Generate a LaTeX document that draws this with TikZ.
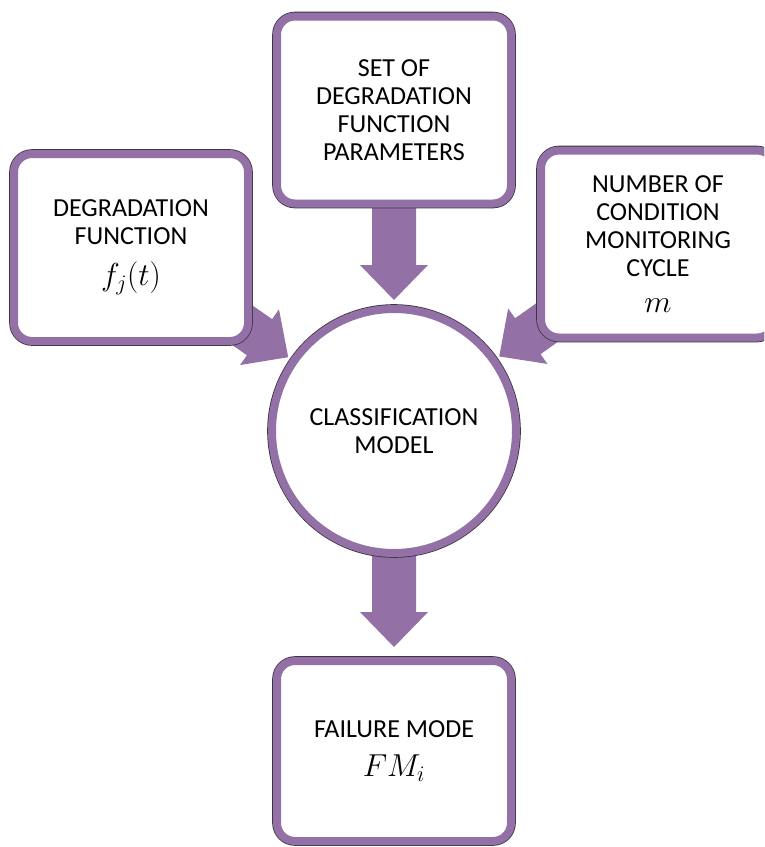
\documentclass[tikz,border=0pt]{standalone}
\usepackage{fix-cm}
\usepackage{fontspec}
\usepackage{graphicx}
\setmainfont{Carlito}
\usetikzlibrary{calc}

\definecolor{flowpurple}{RGB}{147,112,165}
\definecolor{edgegray}{RGB}{62,52,68}

\pgfdeclarelayer{back}
\pgfsetlayers{back,main}

\newcommand\bigmath[1]{\scalebox{1.22}{$#1$}}

\tikzset{
  labelfont/.style={font=\fontsize{26}{28}\selectfont},
  ring/.style={draw=flowpurple, line width=8pt, fill=white,
    preaction={draw=edgegray, line width=9.6pt}},
  panel/.style={ring, rounded corners=18pt, minimum width=234pt,
    minimum height=187pt, inner sep=0pt, align=center, labelfont},
  hub/.style={ring, circle, minimum size=244pt, inner sep=0pt,
    align=center, labelfont},
  arrowbody/.style={fill=flowpurple}
}

% thick block arrow from node #1 to the named tip point #2
\newcommand\fatarrow[2]{%
  \coordinate (hb) at ($(#2)!35pt!(#1)$);
  \fill[arrowbody]
    ($(#1)!22pt!90:(#2)$) -- ($(hb)!22pt!90:(#2)$) --
    ($(hb)!34pt!90:(#2)$) -- (#2) --
    ($(hb)!34pt!-90:(#2)$) -- ($(hb)!22pt!-90:(#2)$) --
    ($(#1)!22pt!-90:(#2)$) -- cycle;}

\begin{document}
\begin{tikzpicture}[x=1pt, y={(0pt,-1pt)}]
  \useasboundingbox (0,0) rectangle (764,847);
  \clip (0,0) rectangle (764,847);

  \node[hub] (clf) at (394,431) {CLASSIFICATION\\MODEL};

  \node[panel] (params) at (394,110)
    {SET OF\\DEGRADATION\\FUNCTION\\PARAMETERS};
  \node[panel] (degfun) at (131,247.5)
    {DEGRADATION\\FUNCTION\\[13pt]\bigmath{f_j(t)}};
  \node[panel] (cycles) at (658,244)
    {NUMBER OF\\CONDITION\\MONITORING\\CYCLE\\[8pt]\bigmath{m}};
  \node[panel, minimum height=180pt] (fmode) at (394,751)
    {FAILURE MODE\\[11pt]\bigmath{FM_i}};

  % arrow tips, placed just short of their targets
  \coordinate (tipTop) at ($(clf.north)+(0,-5)$);
  \coordinate (tipLeft) at ($(clf.center)!129pt!(degfun)$);
  \coordinate (tipRight) at ($(clf.center)!129pt!(cycles)$);
  \coordinate (tipDown) at ($(fmode.north)+(0,-10)$);

  \begin{pgfonlayer}{back}
    \fatarrow{params}{tipTop}
    \fatarrow{degfun}{tipLeft}
    \fatarrow{cycles}{tipRight}
    \fatarrow{clf}{tipDown}
  \end{pgfonlayer}
\end{tikzpicture}
\end{document}
